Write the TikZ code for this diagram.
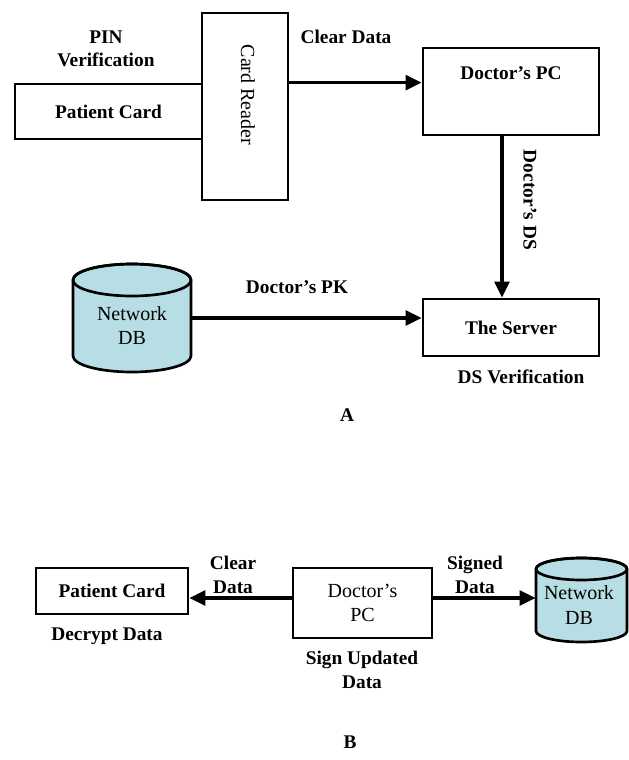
\documentclass[tikz,border=0pt]{standalone}
\usepackage{fontspec}
\setmainfont{Liberation Serif}
\usetikzlibrary{arrows.meta}
\definecolor{dbfill}{RGB}{183,222,228}
\tikzset{
  blk/.style={draw, line width=2pt, fill=white, inner sep=0pt},
  lbl/.style={font=\fontsize{14.5}{17.5}\selectfont\bfseries, align=center, inner sep=0pt},
  reg/.style={font=\fontsize{15}{18.5}\selectfont, align=center, inner sep=0pt},
  flow/.style={line width=2.5pt, -{Triangle[length=12pt,width=11pt]}},
  dbline/.style={draw, line width=2pt, fill=dbfill}
}
% cylinder drawn by hand: centre x, top y, bottom y, x radius, y radius
\newcommand{\dbcyl}[5]{%
  \path[dbline] (#1-#4,#2) -- (#1-#4,#3)
    arc[start angle=180,end angle=360,x radius=#4,y radius=#5]
    -- (#1+#4,#2)
    arc[start angle=0,end angle=180,x radius=#4,y radius=#5] -- cycle;
  \draw[line width=2pt] (#1,#2) ellipse[x radius=#4,y radius=#5];
}
\begin{document}
\begin{tikzpicture}[x=0.75pt,y=0.75pt]
\useasboundingbox (0,0) rectangle (628,-760);

% ---------- part A ----------
\node[blk, minimum width=187*0.75pt, minimum height=55*0.75pt, lbl] (card) at (108.5,-111.5) {Patient Card};
\node[blk, minimum width=86*0.75pt, minimum height=187*0.75pt] (reader) at (245,-106.5) {};
\node[reg, rotate=-90] (readertxt) at (248,-95) {Card Reader};
\node[lbl] (pin) at (106,-48.5) {PIN\\Verification};

\node[blk, minimum width=176*0.75pt, minimum height=87*0.75pt] (pc) at (511,-91.5) {};
\node[lbl] (pctxt) at (511,-73) {Doctor's PC};
\node[lbl] (clear) at (346,-37) {Clear Data};

\node[blk, minimum width=176*0.75pt, minimum height=57*0.75pt, lbl] (srv) at (511,-327.5) {The Server};
\node[lbl] (dsver) at (521,-377) {DS Verification};

\dbcyl{132}{-280}{-356}{59}{16}
\node[minimum width=118*0.75pt, minimum height=108*0.75pt, inner sep=0pt] (db) at (132,-318) {};
\node[reg] (dbtxt) at (132,-325.5) {Network\\DB};
\node[lbl] (pk) at (297,-287) {Doctor's PK};

\node[lbl, rotate=-90] (ds) at (530,-200) {Doctor's DS};
\node[lbl] (capA) at (347,-415) {A};

\draw[flow] (reader.east |- card.north) -- (pc.west |- card.north);
\draw[flow] ([xshift=-6.75pt]pc.south) -- ([xshift=-6.75pt]srv.north);
\draw[flow] (db.east) -- (srv.west |- db.east);

% ---------- part B ----------
\node[blk, minimum width=152*0.75pt, minimum height=46*0.75pt, lbl] (card2) at (112,-591) {Patient Card};
\node[lbl] (decrypt) at (107,-636) {Decrypt Data};

\node[blk, minimum width=139*0.75pt, minimum height=70*0.75pt, reg] (pc2) at (362.5,-603) {Doctor's\\PC};
\node[lbl] (sign) at (362,-670) {Sign Updated\\Data};

\dbcyl{581.5}{-569}{-631}{45.5}{11}
\node[minimum width=91*0.75pt, minimum height=84*0.75pt, inner sep=0pt] (db2) at (581.5,-598) {};
\node[reg] (db2txt) at (579,-605) {Network\\DB};

\node[lbl] (clear2) at (233,-575) {Clear\\Data};
\node[lbl] (signed) at (475,-575) {Signed\\Data};
\node[lbl] (capB) at (350,-742) {B};

\draw[flow] (pc2.west |- db2.west) -- (card2.east |- db2.west);
\draw[flow] (pc2.east |- db2.west) -- (db2.west);
\end{tikzpicture}
\end{document}
